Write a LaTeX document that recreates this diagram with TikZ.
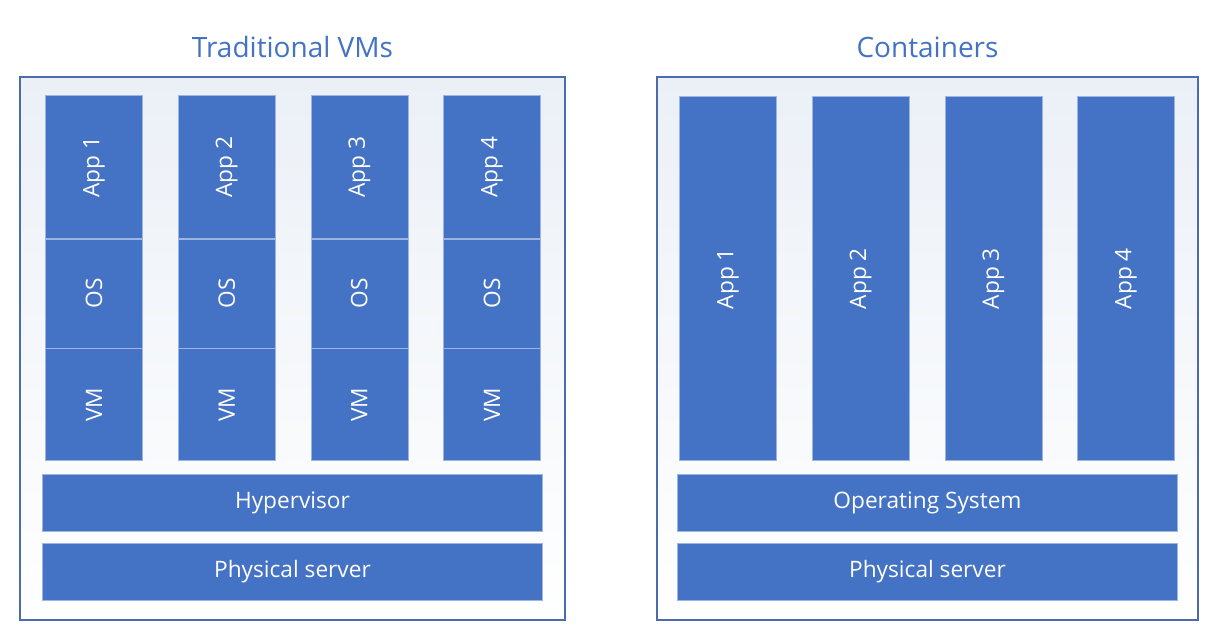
\documentclass[tikz,border=0pt]{standalone}
\usepackage{graphicx}
\usepackage{fontspec}
\setmainfont{Open Sans}
\usetikzlibrary{positioning}
\definecolor{officeblue}{HTML}{4472C4}
\definecolor{framecol}{HTML}{4A6CAE}
\definecolor{celledge}{HTML}{9DB5E0}
\definecolor{framefill}{HTML}{EBF0F7}

\begin{document}
\begin{tikzpicture}[x=0.75pt,y=0.75pt,node distance=0pt,font=\fontsize{17}{20}\selectfont]
	  \tikzstyle{frame}=[draw=framecol,line width=1.1pt,top color=framefill,bottom color=white,inner sep=0pt,minimum height=407.25pt]
	  \tikzstyle{title}=[text=officeblue,font=\fontsize{21}{25}\selectfont]
	  \tikzstyle{bar}=[fill=officeblue,draw=celledge,line width=0.5pt,text=white,minimum width=375pt,minimum height=42.5pt,inner sep=0pt]
	  \tikzstyle{cell}=[fill=officeblue,draw=celledge,line width=0.5pt,text=white,minimum width=72.75pt,inner sep=0pt]
	  \tikzstyle{app}=[cell,minimum height=107.25pt]
	  \tikzstyle{os}=[cell,minimum height=81.75pt]
	  \tikzstyle{vm}=[cell,minimum height=84pt]
	  \tikzstyle{ctr}=[cell,minimum height=273pt]

	  \useasboundingbox (0,0) rectangle (1220,640);

	  % traditional VMs
	  \node[frame,minimum width=408.75pt] (vmframe) at (292.5,291.5) {};
	  \node[title] (vmtitle) [above=10pt of vmframe] {Traditional VMs};

	  \node[bar] (vmphys) [above=15pt of vmframe.south] {Physical server};
	  \node[bar] (hyper) [above=9pt of vmphys] {Hypervisor};

	  \node[vm] (vm1) [above right=9.75pt and 2.25pt of hyper.north west] {\rotatebox{90}{VM}};
	  \node[vm] (vm2) [right=26.25pt of vm1] {\rotatebox{90}{VM}};
	  \node[vm] (vm3) [right=26.25pt of vm2] {\rotatebox{90}{VM}};
	  \node[vm] (vm4) [right=26.25pt of vm3] {\rotatebox{90}{VM}};

	  \node[os] (os1) [above=of vm1] {\rotatebox{90}{OS}};
	  \node[os] (os2) [above=of vm2] {\rotatebox{90}{OS}};
	  \node[os] (os3) [above=of vm3] {\rotatebox{90}{OS}};
	  \node[os] (os4) [above=of vm4] {\rotatebox{90}{OS}};

	  \node[app] (app1) [above=of os1] {\rotatebox{90}{App 1}};
	  \node[app] (app2) [above=of os2] {\rotatebox{90}{App 2}};
	  \node[app] (app3) [above=of os3] {\rotatebox{90}{App 3}};
	  \node[app] (app4) [above=of os4] {\rotatebox{90}{App 4}};

	  % containers
	  \node[frame,minimum width=405.75pt] (ctframe) at (927.5,291.5) {};
	  \node[title] (cttitle) [above=10pt of ctframe] {Containers};

	  \node[bar] (ctphys) [above=15pt of ctframe.south] {Physical server};
	  \node[bar] (ctos) [above=9pt of ctphys] {Operating System};

	  \node[ctr] (ct1) [above right=9.75pt and 1.5pt of ctos.north west] {\rotatebox{90}{App 1}};
	  \node[ctr] (ct2) [right=26.25pt of ct1] {\rotatebox{90}{App 2}};
	  \node[ctr] (ct3) [right=26.25pt of ct2] {\rotatebox{90}{App 3}};
	  \node[ctr] (ct4) [right=26.25pt of ct3] {\rotatebox{90}{App 4}};
	\end{tikzpicture}
\end{document}
